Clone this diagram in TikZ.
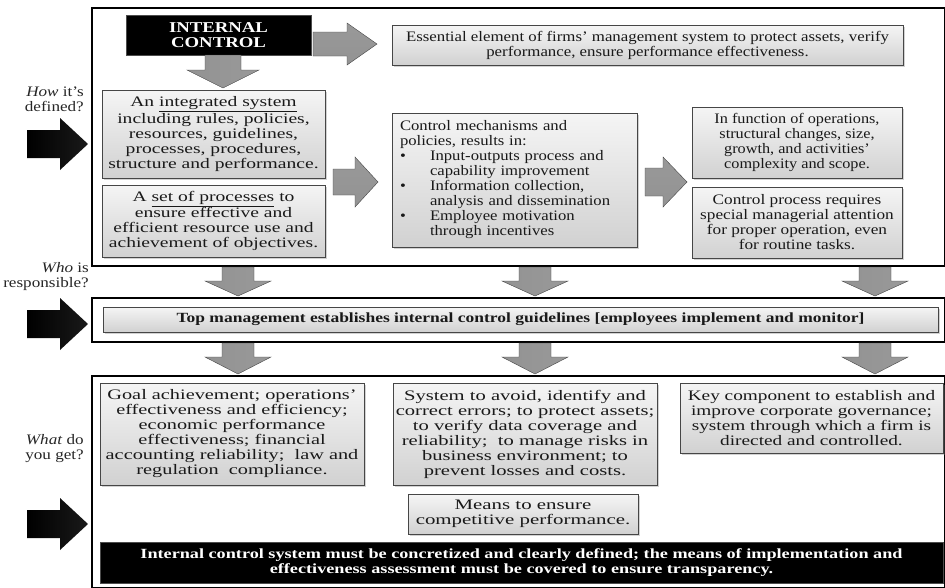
\documentclass[tikz,border=0pt]{standalone}
\usepackage{fontspec}
\setmainfont[FakeStretch=1.25]{Liberation Serif}
\usetikzlibrary{shadows}
\newcommand{\bodyfs}{\fontsize{14.5}{15}\selectfont}
\newcommand{\sfnt}[1]{\fontspec[FakeStretch=#1]{Liberation Serif}\bodyfs}
\newcommand{\barfs}{\fontsize{14}{15}\selectfont\bfseries}
\newcommand{\bul}{\makebox[30pt][l]{\textbullet}}
\newcommand{\ind}{\hspace*{30pt}}
\tikzset{
  frame/.style={draw=black, line width=2.6pt},
  box/.style={draw=gray!55!black, line width=0.8pt, top color=gray!8, bottom color=gray!36,
    drop shadow={opacity=0.35,shadow xshift=1.5pt,shadow yshift=-1.5pt},
    inner sep=1pt, align=center, font=\bodyfs, text=black!90},
  blackbox/.style={fill=black, draw=gray!60!black, line width=0.6pt, text=white, align=center, inner sep=1pt},
  lbl/.style={align=right, font=\sfnt{1.18}, text=black!85, inner sep=0pt},
  garrow/.style={draw=gray!55!black, line width=0.4pt},
  garrowv/.style={garrow, left color=gray!85, middle color=gray!45, right color=gray!80},
  garrowh/.style={garrow, top color=gray!80, middle color=gray!45, bottom color=gray!85},
}
% down arrow: cx, ytop, yhead, ytip, bodyhalf, headhalf
\newcommand{\gdown}[6]{\shade[garrowv] (#1-#5,#2) -- (#1+#5,#2) -- (#1+#5,#3) -- (#1+#6,#3) -- (#1,#4) -- (#1-#6,#3) -- (#1-#5,#3) -- cycle;}
% right arrow: cy, xleft, xhead, xtip, bodyhalf, headhalf
\newcommand{\gright}[6]{\shade[garrowh] (#2,#1-#5) -- (#3,#1-#5) -- (#3,#1-#6) -- (#4,#1) -- (#3,#1+#6) -- (#3,#1+#5) -- (#2,#1+#5) -- cycle;}
\newcommand{\blkarrow}[1]{\shade[left color=black, right color=black!80!gray] (27,#1-14) -- (60,#1-14) -- (60,#1-26) -- (88,#1) -- (60,#1+26) -- (60,#1+14) -- (27,#1+14) -- cycle;}
\begin{document}
\begin{tikzpicture}[x=1pt,y=-1pt]
\useasboundingbox (0,0) rectangle (945,587);
\fill[white] (0,0) rectangle (945,587);

% frames
\draw[frame] (92,8) rectangle (945,266);
\draw[frame] (92,298) rectangle (945,342);
\draw[frame] (92,376) rectangle (945,588);

% left labels and arrows
\node[lbl, anchor=east] (how) at (84,99) {\textit{How} it’s\\defined?};
\node[lbl, anchor=east] (who) at (89,277) {\textit{Who} is\\responsible?};
\node[lbl, anchor=east] (what) at (84,449) {\textit{What} do\\you get?};
\blkarrow{144}
\blkarrow{324}
\blkarrow{524}

% top section
\node[blackbox, minimum width=185pt, minimum height=40pt, font=\fontsize{15}{15}\selectfont\bfseries] (ic) at (218.5,35) {INTERNAL\\CONTROL};
\node[box, minimum width=511pt, minimum height=40pt, font=\sfnt{1.16}] (ess) at (647.5,45)
  {Essential element of firms’ management system to protect assets, verify\\performance, ensure performance effectiveness.};
\node[box, minimum width=223pt, minimum height=88pt, font=\sfnt{1.35}] (integ) at (213.5,134)
  {An \underline{integrated system}\\including rules, policies,\\resources, guidelines,\\processes, procedures,\\structure and performance.};
\node[box, minimum width=223pt, minimum height=72pt, font=\sfnt{1.35}] (setp) at (213.5,221)
  {A \underline{set of processes} to\\ensure effective and\\efficient resource use and\\achievement of objectives.};
\node[box, minimum width=245pt, minimum height=134pt, align=left, text width=229pt, inner xsep=8pt, font=\sfnt{1.15}] (ctrl) at (514.5,180)
  {Control mechanisms and\\policies, results in:\\
   \bul Input-outputs process and\\ \ind capability improvement\\
   \bul Information collection,\\ \ind analysis and dissemination\\
   \bul Employee motivation\\ \ind through incentives};
\node[box, minimum width=210pt, minimum height=71pt, font=\sfnt{1.12}] (infunc) at (797,142.5)
  {In function of operations,\\structural changes, size,\\growth, and activities’\\complexity and scope.};
\node[box, minimum width=210pt, minimum height=71pt, font=\sfnt{1.19}] (cproc) at (797,222.5)
  {Control process requires\\special managerial attention\\for proper operation, even\\for routine tasks.};

\gright{44}{313}{347}{377}{12}{21}
\gdown{223}{55}{70}{88}{18}{36}
\gright{182}{333}{355}{378}{13}{25}
\gright{182}{645}{663}{687}{14}{25}

% arrows between frames
\gdown{238}{267}{281}{296}{16}{33}
\gdown{535}{267}{281}{296}{16}{33}
\gdown{875}{267}{281}{296}{16}{33}
\gdown{238}{343}{357}{374}{16}{33}
\gdown{535}{343}{357}{374}{16}{33}
\gdown{875}{343}{357}{374}{16}{33}

% middle section
\node[box, minimum width=835pt, minimum height=25pt, font=\barfs] (top) at (520.5,319.5)
  {Top management establishes internal control guidelines [employees implement and monitor]};

% bottom section
\node[box, minimum width=264pt, minimum height=102pt, font=\sfnt{1.4}] (goal) at (232,434)
  {Goal achievement; operations’\\effectiveness and efficiency;\\economic performance\\effectiveness; financial\\accounting reliability;\ \ law and\\regulation\ \ compliance.};
\node[box, minimum width=264pt, minimum height=102pt, font=\sfnt{1.42}] (sys) at (525,434)
  {System to avoid, identify and\\correct errors; to protect assets;\\to verify data coverage and\\reliability;\ \ to manage risks in\\business environment; to\\prevent losses and costs.};
\node[box, minimum width=230pt, minimum height=40pt, font=\sfnt{1.44}] (means) at (523,514)
  {Means to ensure\\competitive performance.};
\node[box, minimum width=263pt, minimum height=70pt, font=\sfnt{1.33}] (key) at (811.5,418)
  {Key component to establish and\\improve corporate governance;\\system through which a firm is\\directed and controlled.};
\node[blackbox, minimum width=843pt, minimum height=41pt, font={\fontspec[FakeStretch=1.3]{Liberation Serif}\barfs}] (bar) at (521.5,562.5)
  {Internal control system must be concretized and clearly defined; the means of implementation and\\effectiveness assessment must be covered to ensure transparency.};
\end{tikzpicture}
\end{document}
